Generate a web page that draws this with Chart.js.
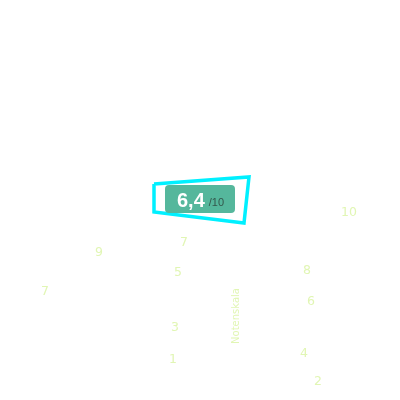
<!DOCTYPE html>
<html>
<head>
<meta charset="utf-8">
<script src="https://cdn.jsdelivr.net/npm/chart.js@4/dist/chart.umd.min.js"></script>
<style>
  html, body { margin: 0; padding: 0; background: #ffffff; }
  #wrap { width: 400px; height: 400px; }
</style>
</head>
<body>
<div id="wrap"><canvas id="chart" width="400" height="400"></canvas></div>
<script>
// score shown in the badge
const scoreValue = '6,4';
const scoreMax = '/10';

// scale numbers scattered over the picture
const scaleLabels = ['10', '7', '9', '5', '8', '7', '6', '3', '1', '4', '2'];
const scaleX = [349, 184, 99, 178, 307, 45, 311, 175, 173, 304, 318];
const scaleY = [213, 243, 253, 273, 271, 292, 302, 328, 360, 354, 382];

// highlight frame around the badge (closed outline)
const frameX = [154, 249, 244, 154, 154];
const frameY = [184, 177, 223, 212, 184];

// badge box corners
const badgeX = [165, 235];
const badgeY = [185, 213];

// rotated caption
const captionText = 'Notenskala';
const captionX = [236];
const captionY = [316];

const toPoints = (xs, ys) => xs.map((x, i) => ({ x: x, y: ys[i] }));

const textPlugin = {
    id: 'textPlugin',
    afterDatasetsDraw(chart) {
        const ctx = chart.ctx;
        const xs = chart.scales.x, ys = chart.scales.y;

        // badge
        const bx0 = xs.getPixelForValue(badgeX[0]), bx1 = xs.getPixelForValue(badgeX[1]);
        const by0 = ys.getPixelForValue(badgeY[0]), by1 = ys.getPixelForValue(badgeY[1]);
        ctx.save();
        ctx.fillStyle = '#55b79c';
        ctx.beginPath();
        ctx.roundRect(bx0, by0, bx1 - bx0, by1 - by0, 4);
        ctx.fill();
        ctx.textBaseline = 'alphabetic';
        ctx.textAlign = 'left';
        ctx.font = 'bold 20px "Liberation Sans", Arial, sans-serif';
        ctx.fillStyle = '#ffffff';
        ctx.fillText(scoreValue, bx0 + 12, by1 - 6);
        const w = ctx.measureText(scoreValue).width;
        ctx.font = '11px "Liberation Sans", Arial, sans-serif';
        ctx.fillStyle = '#33574c';
        ctx.fillText(scoreMax, bx0 + 12 + w + 4, by1 - 7);
        ctx.restore();

        // scale numbers
        const meta = chart.getDatasetMeta(1);
        ctx.save();
        ctx.font = '12.5px "DejaVu Sans", sans-serif';
        ctx.fillStyle = '#e1f6b4';
        ctx.textAlign = 'center';
        ctx.textBaseline = 'middle';
        meta.data.forEach((pt, i) => {
            ctx.fillText(scaleLabels[i], pt.x, pt.y);
        });
        ctx.restore();

        // rotated caption
        const cmeta = chart.getDatasetMeta(2);
        ctx.save();
        ctx.translate(cmeta.data[0].x, cmeta.data[0].y);
        ctx.rotate(-Math.PI / 2);
        ctx.font = '10px "DejaVu Sans", sans-serif';
        ctx.fillStyle = '#e1f6b4';
        ctx.textAlign = 'center';
        ctx.textBaseline = 'middle';
        ctx.fillText(captionText, 0, 0);
        ctx.restore();
    }
};

new Chart(document.getElementById('chart').getContext('2d'), {
    type: 'scatter',
    data: {
        datasets: [
            {
                data: toPoints(frameX, frameY),
                showLine: true,
                borderColor: '#00f0ff',
                borderWidth: 3.5,
                pointRadius: 0,
                fill: false
            },
            {
                data: toPoints(scaleX, scaleY),
                pointRadius: 0
            },
            {
                data: toPoints(captionX, captionY),
                pointRadius: 0
            }
        ]
    },
    options: {
        responsive: false,
        animation: false,
        layout: { padding: 0 },
        plugins: { legend: { display: false }, tooltip: { enabled: false } },
        scales: {
            x: { type: 'linear', min: 0, max: 400, display: false },
            y: { type: 'linear', min: 0, max: 400, reverse: true, display: false }
        }
    },
    plugins: [textPlugin]
});
</script>
</body>
</html>
